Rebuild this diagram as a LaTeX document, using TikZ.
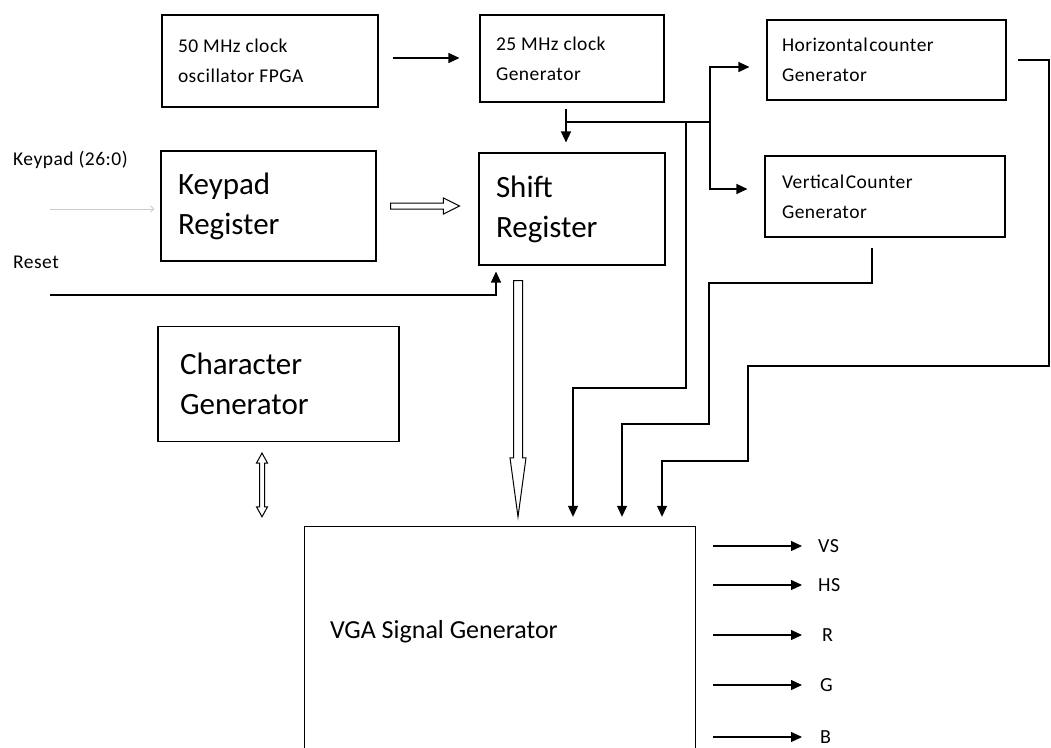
\documentclass[tikz,border=0pt]{standalone}
\usepackage{fontspec}
\setmainfont{Carlito}
\newfontfamily\spaced[LetterSpace=2.5]{Carlito}
\usetikzlibrary{arrows.meta,calc}
\begin{document}
\begin{tikzpicture}[x=1pt,y=-1pt,
  box/.style={draw, line width=1.1pt, align=flush left, inner sep=0pt},
  small/.style={font=\spaced\fontsize{19.5}{30}\selectfont},
  big/.style={font=\fontsize{31}{40}\selectfont},
  wire/.style={line width=1.2pt},
  arr/.style={line width=1.2pt, -{Triangle[length=11pt,width=10pt]}},
  hol/.style={line width=1pt, fill=white, line join=miter},
  lbl/.style={font=\spaced\fontsize{19.5}{20}\selectfont, inner sep=0pt},
  olbl/.style={font=\spaced\fontsize{20}{20}\selectfont, inner sep=0pt}]
\useasboundingbox (0,0) rectangle (1051,747);
\fill[white] (0,0) rectangle (1051,747);

% boxes
\node[box, small, minimum width=216pt, minimum height=92pt, text width=184pt] (A) at (270,61) {50 MHz clock\\oscillator FPGA};
\node[box, small, minimum width=184pt, minimum height=87pt, text width=152pt] (B) at (572,58.5) {25 MHz clock\\Generator};
\node[box, small, minimum width=239pt, minimum height=80pt, text width=209pt] (H) at (886.5,60) {Horizontal\hspace{0.08em}counter\\Generator};
\node[box, big, minimum width=215pt, minimum height=110pt, text width=181pt] (K) at (268.5,206) {Keypad\\Register};
\node[box, big, minimum width=186pt, minimum height=112pt, text width=152pt] (S) at (572,209) {Shift\\Register};
\node[box, small, minimum width=240pt, minimum height=81pt, text width=206pt] (V) at (885,196.5) {Vertical\hspace{0.08em}Counter\\Generator};
\node[box, big, minimum width=241pt, minimum height=115pt, text width=197pt] (C) at (278.5,384) {Character\\Generator};
\node[align=flush left, inner sep=0pt, font=\fontsize{26}{30}\selectfont, minimum width=390pt, minimum height=210pt, text width=340pt] (G) at (500,632) {VGA Signal Generator};
\draw[line width=1.1pt] (G.north west |- 0,750) -- (G.north west) -- (G.north east) -- (G.north east |- 0,750);

% labels on the left
\node[lbl, anchor=west] (kp) at (13,160) {Keypad (26:0)};
\node[lbl, anchor=west] (rs) at (13,262) {Reset};

% keypad input (faint)
\coordinate (kin) at (50,209);
\draw[gray!40, line width=1pt, shorten >=6pt, -{Straight Barb[length=3pt,width=6pt]}] (kin) -- (K.west |- kin);

% reset
\coordinate (rin) at (50,295);
\draw[arr, shorten >=6pt] (rin) -| (S.south -| 496,0);

% 50 -> 25 MHz
\draw[arr, shorten <=14pt, shorten >=20pt] (A.east |- 0,58) -- (B.west |- 0,58);

% clock distribution
\coordinate (tap) at (566,122);
\coordinate (j1) at (710,122);
\coordinate (j2) at (686,122);
\draw[arr, shorten <=6pt, shorten >=10pt] (B.south -| tap) -- (S.north -| tap);
\draw[wire] (tap) -- (j1);
\draw[arr, shorten >=17pt] (j1) |- (H.west |- 0,67);
\draw[arr, shorten >=17pt] (j1) |- (V.west |- 0,189);
\draw[arr, shorten >=10pt] (j2) |- (573,388) -- (G.north -| 573,0);

% counters to VGA
\draw[arr, shorten <=10pt, shorten >=10pt] (V.south -| 872,0) -- (872,283) -| (709,424) -| (G.north -| 622,0);
\draw[arr, shorten <=11pt, shorten >=10pt] (H.east) -| (1049,366) -| (748,461) -| (G.north -| 662,0);

% hollow arrow keypad -> shift
\coordinate (ks1) at ($(K.east)+(14,0)$);
\coordinate (ks2) at ($(S.west |- ks1)+(-19,0)$);
\draw[hol] ($(ks1)+(0,-3)$) -- ($(ks2)+(-16,-3)$) -- ($(ks2)+(-16,-8)$) -- (ks2) -- ($(ks2)+(-16,8)$) -- ($(ks2)+(-16,3)$) -- ($(ks1)+(0,3)$) -- cycle;

% hollow arrow shift -> VGA
\coordinate (s1) at ($(S.south -| 518,0)+(0,15)$);
\coordinate (s2) at ($(G.north -| 518,0)+(0,-10)$);
\draw[hol] ($(s1)+(-4.5,0)$) -- ($(s2)+(-4.5,-59)$) -- ($(s2)+(-8,-59)$) -- (s2) -- ($(s2)+(8,-59)$) -- ($(s2)+(4.5,-59)$) -- ($(s1)+(4.5,0)$) -- cycle;

% hollow double arrow character <-> VGA
\coordinate (c1) at ($(C.south -| 262,0)+(0,11)$);
\coordinate (c2) at ($(G.north -| 262,0)+(0,-10)$);
\draw[hol] (c1) -- ($(c1)+(5.5,10)$) -- ($(c1)+(2.5,10)$) -- ($(c2)+(2.5,-10)$) -- ($(c2)+(5.5,-10)$) -- (c2) -- ($(c2)+(-5.5,-10)$) -- ($(c2)+(-2.5,-10)$) -- ($(c1)+(-2.5,10)$) -- ($(c1)+(-5.5,10)$) -- cycle;

% outputs
\node[olbl, anchor=west] (vs) at (818,546) {VS};
\node[olbl, anchor=west] (hs) at (818,585) {HS};
\node[olbl, anchor=west] (r) at (822,635) {R};
\node[olbl, anchor=west] (g) at (820,685) {G};
\node[olbl, anchor=west] (b) at (820,737) {B};
\draw[arr, shorten <=18pt, shorten >=16pt] (G.east |- vs) -- (vs.west);
\draw[arr, shorten <=18pt, shorten >=16pt] (G.east |- hs) -- (hs.west);
\draw[arr, shorten <=18pt, shorten >=20pt] (G.east |- r) -- (r.west);
\draw[arr, shorten <=18pt, shorten >=18pt] (G.east |- g) -- (g.west);
\draw[arr, shorten <=18pt, shorten >=18pt] (G.east |- b) -- (b.west);
\end{tikzpicture}
\end{document}
